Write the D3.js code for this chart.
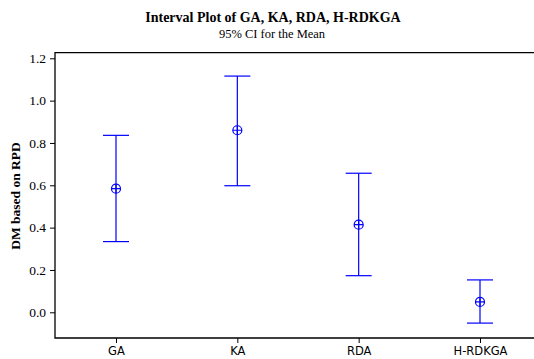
<!DOCTYPE html>
<html><head><meta charset="utf-8">
<script src="https://cdn.jsdelivr.net/npm/d3@7"></script>
<style>body{margin:0;background:#fff}svg{display:block}</style>
</head><body>
<script>
const categories = ["GA","KA","RDA","H-RDKGA"];
const means = [0.584, 0.860, 0.414, 0.049];
const lowerCI = [0.334, 0.598, 0.173, -0.051];
const upperCI = [0.836, 1.116, 0.657, 0.153];
const yTicks = [0.0,0.2,0.4,0.6,0.8,1.0,1.2];

(function(){
const W=534,H=359;
const svg=d3.select("body").append("svg").attr("width",W).attr("height",H);
const mLeft=55, mTop=52.7, mBottom=338, mRight=600;
const y=d3.scaleLinear().domain([0,1.2]).range([312.3,58.3]);
const x=d3.scalePoint().domain(categories).range([116,480]);

svg.append("text").attr("x",273).attr("y",22).attr("text-anchor","middle")
  .style("font-family","'Liberation Serif'").style("font-weight","bold").style("font-size","14px")
  .text("Interval Plot of GA, KA, RDA, H-RDKGA");
svg.append("text").attr("x",272).attr("y",38).attr("text-anchor","middle")
  .style("font-family","'Liberation Serif'").style("font-size","12.5px")
  .text("95% CI for the Mean");

svg.append("path").attr("d",`M${mRight},${mTop}H${mLeft}V${mBottom}H${mRight}`)
  .attr("fill","none").attr("stroke","#000").attr("stroke-width",1.3);

const yAxis=svg.append("g").attr("transform",`translate(${mLeft},0)`)
  .call(d3.axisLeft(y).tickValues(yTicks).tickFormat(d3.format(".1f")).tickSize(5).tickSizeOuter(0));
yAxis.select(".domain").remove();
yAxis.selectAll("text").style("font-family","'Liberation Serif'").style("font-size","13.5px").attr("fill","#000").attr("dx","-1");
yAxis.selectAll("line").attr("stroke","#000");

const xAxis=svg.append("g").attr("transform",`translate(0,${mBottom})`)
  .call(d3.axisBottom(x).tickSize(5).tickSizeOuter(0));
xAxis.select(".domain").remove();
xAxis.selectAll("text").style("font-family","'DejaVu Sans'").style("font-size","11.5px").attr("fill","#000").attr("y",9);
xAxis.selectAll("line").attr("stroke","#000");

svg.append("text").attr("transform","translate(20,196) rotate(-90)").attr("text-anchor","middle")
  .style("font-family","'Liberation Serif'").style("font-weight","bold").style("font-size","13.5px")
  .text("DM based on RPD");

const blue="#0000ff";
const g=svg.append("g");
categories.forEach((c,i)=>{
  const cx=x(c);
  g.append("line").attr("x1",cx).attr("x2",cx).attr("y1",y(lowerCI[i])).attr("y2",y(upperCI[i])).attr("stroke",blue).attr("stroke-width",1.2);
  [lowerCI[i],upperCI[i]].forEach(v=>{
    g.append("line").attr("x1",cx-13).attr("x2",cx+13).attr("y1",y(v)).attr("y2",y(v)).attr("stroke",blue).attr("stroke-width",1.2);
  });
  const cy=y(means[i]);
  g.append("circle").attr("cx",cx).attr("cy",cy).attr("r",4.5).attr("fill","none").attr("stroke",blue).attr("stroke-width",1.2);
  g.append("path").attr("d",`M${cx-4.5},${cy}H${cx+4.5}M${cx},${cy-4.5}V${cy+4.5}`).attr("stroke",blue).attr("stroke-width",1.2);
});
})();
</script>
</body></html>
